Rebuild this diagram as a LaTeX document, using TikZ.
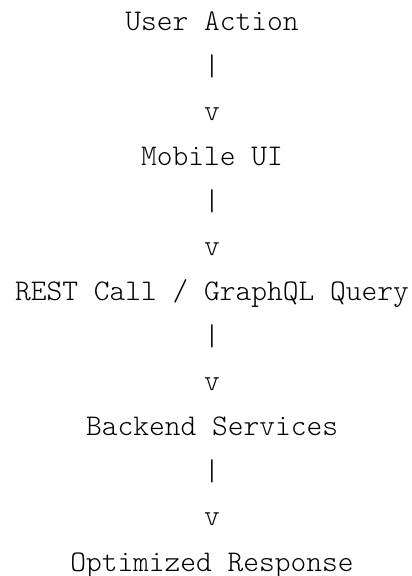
\documentclass[tikz,border=0pt]{standalone}
\begin{document}
\begin{tikzpicture}[x=1pt,y=1pt,
  line/.style={anchor=base,inner sep=0pt,font=\fontseries{l}\ttfamily\fontsize{30}{34}\selectfont,text=black}]
\useasboundingbox (0,0) rectangle (412,576);
\node[line] (t0)  at (212,545) {User Action};
\node[line] (t1)  at (212,500) {|};
\node[line] (t2)  at (212,455) {v};
\node[line] (t3)  at (212,410) {Mobile UI};
\node[line] (t4)  at (212,365) {|};
\node[line] (t5)  at (212,320) {v};
\node[line] (t6)  at (212,275) {REST Call / GraphQL Query};
\node[line] (t7)  at (212,230) {|};
\node[line] (t8)  at (212,185) {v};
\node[line] (t9)  at (212,140) {Backend Services};
\node[line] (t10) at (212,95)  {|};
\node[line] (t11) at (212,50)  {v};
\node[line] (t12) at (212,5)   {Optimized Response};
\end{tikzpicture}
\end{document}
